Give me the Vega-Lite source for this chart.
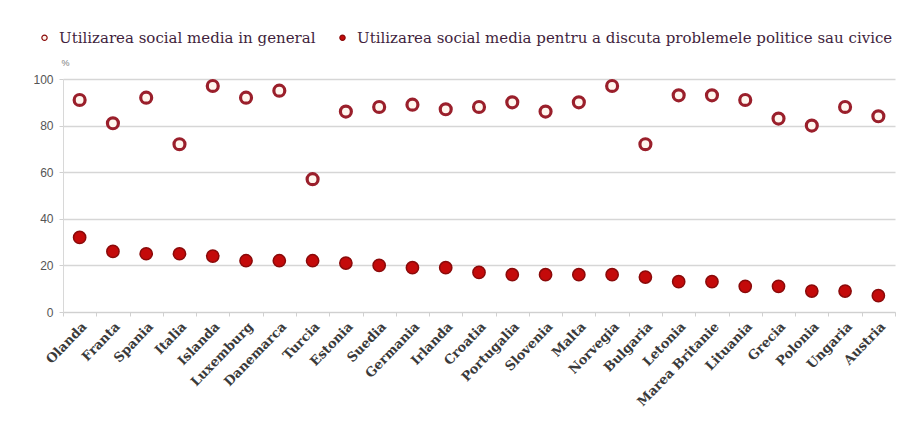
{
  "$schema": "https://vega.github.io/schema/vega-lite/v6.json",
  "autosize": {"type": "none"},
  "padding": {"left": 63, "top": 79, "right": 5, "bottom": 118},
  "width": 832,
  "height": 233,
  "background": "#ffffff",
  "data": {
    "values": [
      {"tara": "Olanda", "serie": "general", "valoare": 91},
      {"tara": "Franta", "serie": "general", "valoare": 81},
      {"tara": "Spania", "serie": "general", "valoare": 92},
      {"tara": "Italia", "serie": "general", "valoare": 72},
      {"tara": "Islanda", "serie": "general", "valoare": 97},
      {"tara": "Luxemburg", "serie": "general", "valoare": 92},
      {"tara": "Danemarca", "serie": "general", "valoare": 95},
      {"tara": "Turcia", "serie": "general", "valoare": 57},
      {"tara": "Estonia", "serie": "general", "valoare": 86},
      {"tara": "Suedia", "serie": "general", "valoare": 88},
      {"tara": "Germania", "serie": "general", "valoare": 89},
      {"tara": "Irlanda", "serie": "general", "valoare": 87},
      {"tara": "Croatia", "serie": "general", "valoare": 88},
      {"tara": "Portugalia", "serie": "general", "valoare": 90},
      {"tara": "Slovenia", "serie": "general", "valoare": 86},
      {"tara": "Malta", "serie": "general", "valoare": 90},
      {"tara": "Norvegia", "serie": "general", "valoare": 97},
      {"tara": "Bulgaria", "serie": "general", "valoare": 72},
      {"tara": "Letonia", "serie": "general", "valoare": 93},
      {"tara": "Marea Britanie", "serie": "general", "valoare": 93},
      {"tara": "Lituania", "serie": "general", "valoare": 91},
      {"tara": "Grecia", "serie": "general", "valoare": 83},
      {"tara": "Polonia", "serie": "general", "valoare": 80},
      {"tara": "Ungaria", "serie": "general", "valoare": 88},
      {"tara": "Austria", "serie": "general", "valoare": 84},
      {"tara": "Olanda", "serie": "politic", "valoare": 32},
      {"tara": "Franta", "serie": "politic", "valoare": 26},
      {"tara": "Spania", "serie": "politic", "valoare": 25},
      {"tara": "Italia", "serie": "politic", "valoare": 25},
      {"tara": "Islanda", "serie": "politic", "valoare": 24},
      {"tara": "Luxemburg", "serie": "politic", "valoare": 22},
      {"tara": "Danemarca", "serie": "politic", "valoare": 22},
      {"tara": "Turcia", "serie": "politic", "valoare": 22},
      {"tara": "Estonia", "serie": "politic", "valoare": 21},
      {"tara": "Suedia", "serie": "politic", "valoare": 20},
      {"tara": "Germania", "serie": "politic", "valoare": 19},
      {"tara": "Irlanda", "serie": "politic", "valoare": 19},
      {"tara": "Croatia", "serie": "politic", "valoare": 17},
      {"tara": "Portugalia", "serie": "politic", "valoare": 16},
      {"tara": "Slovenia", "serie": "politic", "valoare": 16},
      {"tara": "Malta", "serie": "politic", "valoare": 16},
      {"tara": "Norvegia", "serie": "politic", "valoare": 16},
      {"tara": "Bulgaria", "serie": "politic", "valoare": 15},
      {"tara": "Letonia", "serie": "politic", "valoare": 13},
      {"tara": "Marea Britanie", "serie": "politic", "valoare": 13},
      {"tara": "Lituania", "serie": "politic", "valoare": 11},
      {"tara": "Grecia", "serie": "politic", "valoare": 11},
      {"tara": "Polonia", "serie": "politic", "valoare": 9},
      {"tara": "Ungaria", "serie": "politic", "valoare": 9},
      {"tara": "Austria", "serie": "politic", "valoare": 7}
    ]
  },
  "mark": {"type": "point", "filled": false, "shape": "circle", "opacity": 1},
  "encoding": {
    "x": {
      "field": "tara",
      "type": "nominal",
      "sort": null,
      "scale": {"paddingInner": 0, "paddingOuter": 0},
      "axis": {
        "title": null,
        "labelAngle": -46,
        "labelAlign": "right",
        "labelBaseline": "top",
        "labelFont": "DejaVu Serif",
        "labelFontSize": 13,
        "labelFontWeight": "bold",
        "labelColor": "#3a3a3a",
        "labelPadding": 4,
        "tickBand": "extent",
        "tickColor": "#d0d0d0",
        "tickSize": 4,
        "domainColor": "#d0d0d0",
        "grid": false
      }
    },
    "y": {
      "field": "valoare",
      "type": "quantitative",
      "scale": {"domain": [0, 100], "nice": false},
      "axis": {
        "title": "%",
        "titleAngle": 0,
        "titleX": -2,
        "titleY": -12,
        "titleAlign": "left",
        "titleFont": "Liberation Sans",
        "titleFontSize": 9,
        "titleFontWeight": "normal",
        "titleColor": "#7a7a7a",
        "values": [0, 20, 40, 60, 80, 100],
        "labelFont": "Liberation Sans",
        "labelFontSize": 12,
        "labelColor": "#555555",
        "labelPadding": 6,
        "tickColor": "#d0d0d0",
        "tickSize": 4,
        "domainColor": "#d8d8d8",
        "gridColor": "#d6d6d6",
        "gridWidth": 1.3
      }
    },
    "fill": {
      "field": "serie",
      "type": "nominal",
      "scale": {"domain": ["general", "politic"], "range": ["#fff6ee", "#c40a0a"]},
      "legend": {
        "title": null,
        "orient": "none",
        "legendX": -26,
        "legendY": -49,
        "direction": "horizontal",
        "columns": 2,
        "columnPadding": 19,
        "symbolSize": 28,
        "symbolType": "circle",
        "symbolStrokeWidth": 1.2,
        "labelFont": "DejaVu Serif",
        "labelFontSize": 15,
        "labelColor": "#3f1f3d",
        "labelOffset": 7,
        "labelLimit": 700,
        "labelExpr": "datum.value === 'general' ? 'Utilizarea social media in general' : 'Utilizarea social media pentru a discuta problemele politice sau civice'",
        "encode": {
          "symbols": {
            "enter": {
              "fill": {"signal": "datum.value === 'general' ? '#ffffff' : '#111111'"},
              "stroke": {"signal": "datum.value === 'general' ? '#7a7a7a' : '#111111'"}
            },
            "update": {
              "fill": {"signal": "datum.value === 'general' ? '#ffffff' : '#111111'"},
              "stroke": {"signal": "datum.value === 'general' ? '#7a7a7a' : '#111111'"}
            }
          }
        }
      }
    },
    "stroke": {
      "condition": {"test": "datum.serie === 'general'", "value": "#9a1f2b"},
      "value": "#8a0a0a"
    },
    "strokeWidth": {
      "condition": {"test": "datum.serie === 'general'", "value": 3.2},
      "value": 1.5
    },
    "size": {
      "condition": {"test": "datum.serie === 'general'", "value": 120},
      "value": 150
    }
  },
  "config": {
    "view": {"stroke": null}
  }
}
